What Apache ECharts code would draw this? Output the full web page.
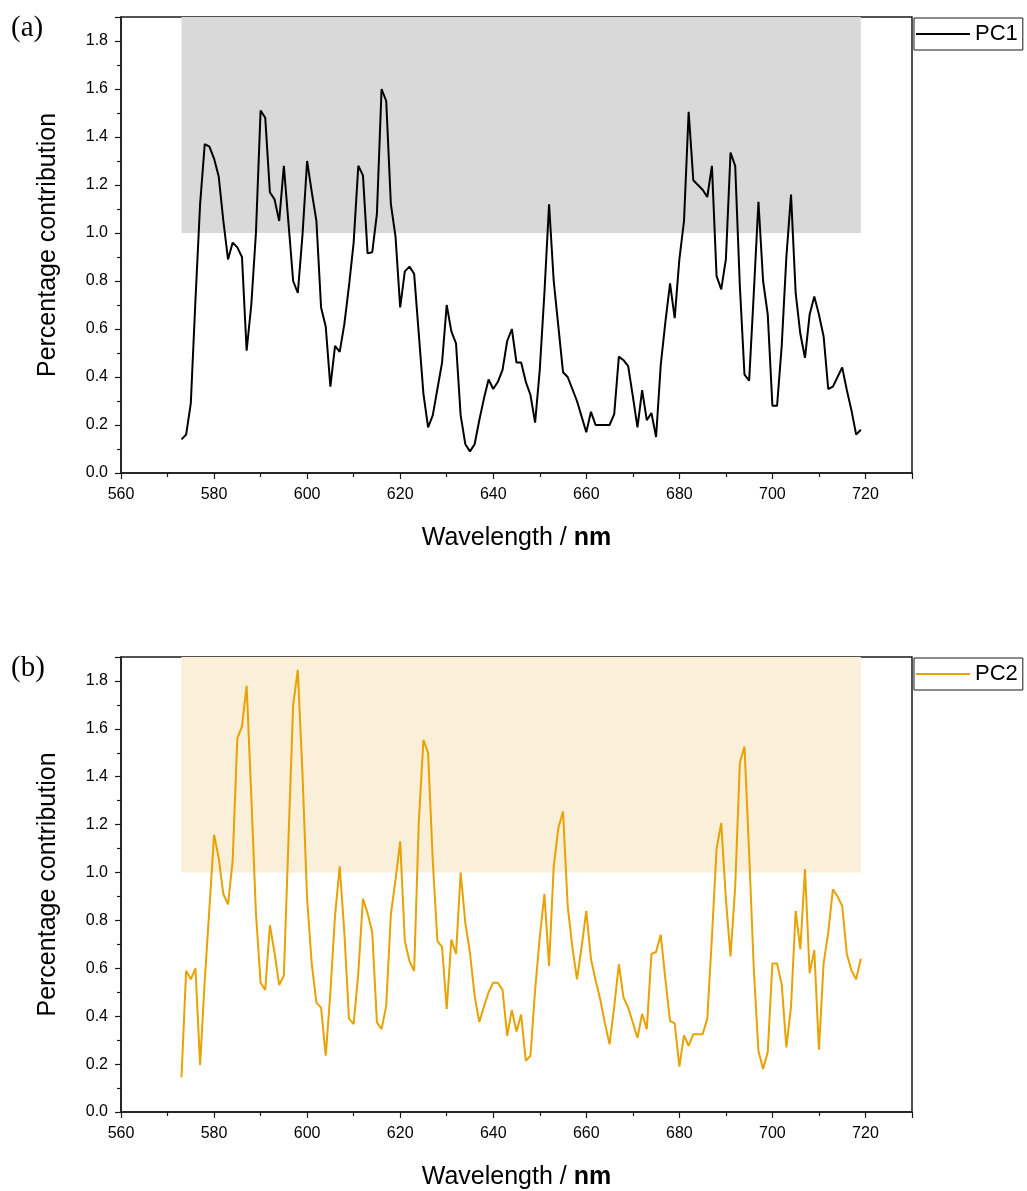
<!DOCTYPE html>
<html>
<head>
<meta charset="utf-8">
<script src="https://cdn.jsdelivr.net/npm/echarts@6/dist/echarts.min.js"></script>
<style>
  html, body { margin: 0; padding: 0; background: #fff; }
  #chart { width: 1027px; height: 1191px; }
</style>
</head>
<body>
<div id="chart"></div>
<script>
// Sampled wavelengths (nm), 1 nm steps
const startNm = 573;
const endNm = 719;
const wavelengths = [];
for (let w = startNm; w <= endNm; w++) wavelengths.push(w);

// Percentage contribution of each wavelength to PC1
const pc1 = [
  0.14, 0.16, 0.29, 0.72, 1.12, 1.37, 1.36, 1.31, 1.235, 1.05,   // 573-582
  0.89, 0.96, 0.94, 0.90, 0.51, 0.70, 1.00, 1.51, 1.48, 1.17,    // 583-592
  1.14, 1.05, 1.28, 1.04, 0.80, 0.75, 0.99, 1.30, 1.17, 1.05,    // 593-602
  0.69, 0.61, 0.36, 0.53, 0.505, 0.62, 0.78, 0.96, 1.28, 1.24,   // 603-612
  0.915, 0.92, 1.08, 1.60, 1.55, 1.12, 0.985, 0.69, 0.84, 0.86,  // 613-622
  0.83, 0.58, 0.33, 0.19, 0.24, 0.35, 0.46, 0.70, 0.59, 0.54,    // 623-632
  0.24, 0.12, 0.09, 0.12, 0.22, 0.31, 0.39, 0.35, 0.38, 0.43,    // 633-642
  0.55, 0.60, 0.46, 0.46, 0.38, 0.325, 0.21, 0.43, 0.75, 1.12,   // 643-652
  0.80, 0.61, 0.42, 0.40, 0.35, 0.30, 0.235, 0.17, 0.255, 0.20,  // 653-662
  0.20, 0.20, 0.20, 0.245, 0.485, 0.47, 0.445, 0.32, 0.19, 0.345,// 663-672
  0.22, 0.25, 0.15, 0.45, 0.63, 0.79, 0.645, 0.89, 1.05, 1.505,  // 673-682
  1.22, 1.20, 1.18, 1.15, 1.28, 0.82, 0.765, 0.89, 1.335, 1.28,  // 683-692
  0.78, 0.41, 0.385, 0.75, 1.13, 0.80, 0.66, 0.28, 0.28, 0.53,   // 693-702
  0.90, 1.16, 0.75, 0.58, 0.48, 0.66, 0.735, 0.66, 0.57, 0.35,   // 703-712
  0.36, 0.40, 0.44, 0.345, 0.26, 0.16, 0.18                      // 713-719
];

// Percentage contribution of each wavelength to PC2
const pc2 = [
  0.145, 0.59, 0.554, 0.60, 0.196, 0.55, 0.85, 1.158, 1.06, 0.91,     // 573-582
  0.867, 1.05, 1.56, 1.61, 1.78, 1.32, 0.83, 0.54, 0.51, 0.78,        // 583-592
  0.665, 0.53, 0.57, 1.14, 1.70, 1.846, 1.415, 0.89, 0.617, 0.457,    // 593-602
  0.436, 0.235, 0.50, 0.82, 1.026, 0.75, 0.39, 0.367, 0.58, 0.89,     // 603-612
  0.83, 0.75, 0.374, 0.346, 0.443, 0.825, 0.97, 1.13, 0.714, 0.63,    // 613-622
  0.589, 1.21, 1.554, 1.50, 1.05, 0.714, 0.69, 0.43, 0.72, 0.66,      // 623-632
  1.00, 0.79, 0.665, 0.485, 0.376, 0.44, 0.50, 0.54, 0.54, 0.51,      // 633-642
  0.318, 0.426, 0.336, 0.407, 0.214, 0.235, 0.51, 0.73, 0.91, 0.61,   // 643-652
  1.026, 1.186, 1.255, 0.86, 0.69, 0.554, 0.69, 0.84, 0.64, 0.55,     // 653-662
  0.47, 0.37, 0.283, 0.44, 0.617, 0.478, 0.436, 0.374, 0.31, 0.41,    // 663-672
  0.346, 0.66, 0.668, 0.74, 0.554, 0.38, 0.37, 0.19, 0.32, 0.276,     // 673-682
  0.325, 0.325, 0.325, 0.39, 0.73, 1.10, 1.207, 0.89, 0.65, 0.94,     // 683-692
  1.457, 1.526, 1.08, 0.596, 0.255, 0.18, 0.25, 0.62, 0.62, 0.533,    // 693-702
  0.27, 0.44, 0.84, 0.68, 1.015, 0.58, 0.676, 0.26, 0.62, 0.75,       // 703-712
  0.93, 0.90, 0.86, 0.66, 0.59, 0.554, 0.64                           // 713-719
];

// Axis ranges and ticks
const xMin = 560, xMax = 730, xStep = 20;
const yMin = 0, yMax = 1.9, yStep = 0.2;
// Contributions above this level are highlighted
const threshold = 1.0;

const panels = [
  { tag: '(a)', name: 'PC1', values: pc1, color: '#000000', band: '#d9d9d9' },
  { tag: '(b)', name: 'PC2', values: pc2, color: '#e8a202', band: '#faefd9' }
];

const FONT = '"Liberation Sans", Arial, sans-serif';
const gridTops = [17, 657];
const gridH = 456;

const chart = echarts.init(document.getElementById('chart'), null, { renderer: 'canvas' });

const option = {
  backgroundColor: '#ffffff',
  animation: false,
  grid: gridTops.map(t => ({
    left: 121, top: t, width: 791, height: gridH,
    show: true, borderColor: '#1a1a1a', borderWidth: 1.5, backgroundColor: 'transparent'
  })),
  xAxis: panels.map((p, i) => ({
    type: 'value', gridIndex: i, min: xMin, max: xMax, interval: xStep,
    name: '{a|Wavelength / }{b|nm}',
    nameLocation: 'middle', nameGap: 53,
    nameTextStyle: {
      rich: {
        a: { fontFamily: FONT, fontSize: 25, color: '#000' },
        b: { fontFamily: FONT, fontSize: 25, fontWeight: 'bold', color: '#000' }
      }
    },
    axisLine: { show: true, onZero: false, lineStyle: { color: '#1a1a1a', width: 1.5 } },
    axisTick: { show: true, inside: false, length: 6, lineStyle: { color: '#1a1a1a', width: 1.2 } },
    minorTick: { show: true, splitNumber: 2, length: 4, lineStyle: { color: '#1a1a1a', width: 1.2 } },
    splitLine: { show: false },
    axisLabel: {
      showMaxLabel: false, margin: 14,
      fontFamily: FONT, fontSize: 16, color: '#000',
      formatter: v => (v % xStep === 0 ? String(v) : '')
    }
  })),
  yAxis: panels.map((p, i) => ({
    type: 'value', gridIndex: i, min: yMin, max: yMax, interval: yStep,
    name: 'Percentage contribution',
    nameLocation: 'middle', nameGap: 60,
    nameTextStyle: { fontFamily: FONT, fontSize: 25, color: '#000' },
    axisLine: { show: true, onZero: false, lineStyle: { color: '#1a1a1a', width: 1.5 } },
    axisTick: { show: true, inside: false, length: 6, lineStyle: { color: '#1a1a1a', width: 1.2 } },
    minorTick: { show: true, splitNumber: 2, length: 4, lineStyle: { color: '#1a1a1a', width: 1.2 } },
    splitLine: { show: false },
    axisLabel: {
      showMaxLabel: false, margin: 13,
      fontFamily: FONT, fontSize: 16, color: '#000',
      formatter: v => v.toFixed(1)
    }
  })),
  legend: panels.map((p, i) => ({
    data: [p.name],
    left: 914, top: gridTops[i] + 1,
    orient: 'vertical',
    icon: 'rect', itemWidth: 54, itemHeight: 2,
    itemGap: 4,
    padding: [5, 5, 5, 2],
    borderColor: '#1a1a1a', borderWidth: 1,
    backgroundColor: '#fff',
    textStyle: { fontFamily: FONT, fontSize: 22, color: '#000', padding: [0, 0, 0, 0] }
  })),
  graphic: panels.map((p, i) => ({
    type: 'text', left: 11, top: gridTops[i] - 3,
    style: { text: p.tag, font: '29px "Liberation Serif", "Times New Roman", serif', fill: '#000' }
  })),
  series: panels.map((p, i) => ({
    name: p.name, type: 'line',
    xAxisIndex: i, yAxisIndex: i,
    data: wavelengths.map((w, k) => [w, p.values[k]]),
    showSymbol: false, symbol: 'none',
    lineStyle: { color: p.color, width: 2 },
    itemStyle: { color: p.color },
    markArea: {
      silent: true,
      itemStyle: { color: p.band, opacity: 1 },
      data: [[
        { xAxis: wavelengths[0], yAxis: threshold },
        { xAxis: wavelengths[wavelengths.length - 1], yAxis: yMax }
      ]]
    }
  }))
};

chart.setOption(option);
</script>
</body>
</html>
